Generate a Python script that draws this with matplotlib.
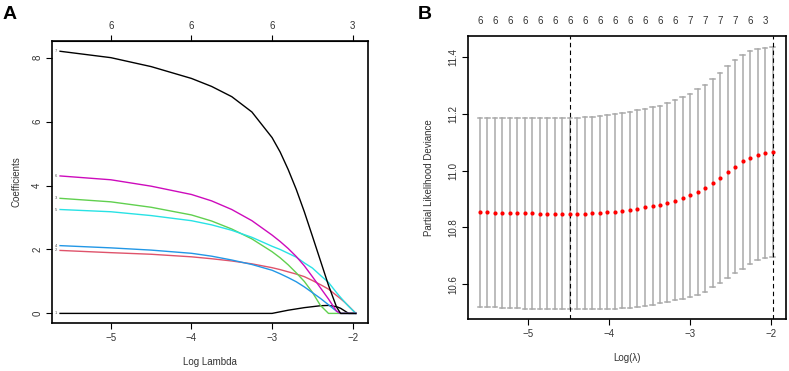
import matplotlib
matplotlib.use("Agg")
import matplotlib.pyplot as plt

plt.rcParams['font.family'] = ['Liberation Sans', 'DejaVu Sans']

# ---- panel A: coefficient paths ----
path_x = [-5.63, -5.0, -4.5, -4.0, -3.75, -3.5, -3.25, -3.0, -2.9, -2.8,
          -2.7, -2.6, -2.5, -2.4, -2.3, -2.2, -2.15, -2.1, -2.05, -1.96]
coef_v1 = [0, 0, 0, 0, 0, 0, 0, 0, 0.05, 0.10, 0.14, 0.18, 0.21, 0.24, 0.25, 0.21, 0.16, 0.08, 0, 0]
coef_v2 = [1.97, 1.90, 1.85, 1.77, 1.71, 1.64, 1.55, 1.43, 1.37, 1.30, 1.23, 1.15, 1.03, 0.90, 0.76, 0.56, 0.46, 0.35, 0.23, 0]
coef_v3 = [3.60, 3.49, 3.32, 3.08, 2.89, 2.64, 2.33, 1.93, 1.74, 1.52, 1.27, 1.00, 0.66, 0.25, 0, 0, 0, 0, 0, 0]
coef_v4 = [2.12, 2.05, 1.98, 1.88, 1.79, 1.67, 1.53, 1.35, 1.24, 1.12, 0.99, 0.83, 0.65, 0.47, 0.27, 0.07, 0, 0, 0, 0]
coef_v5 = [3.25, 3.18, 3.06, 2.90, 2.77, 2.60, 2.38, 2.10, 2.00, 1.88, 1.76, 1.58, 1.42, 1.19, 0.97, 0.65, 0.50, 0.36, 0.22, 0]
coef_v6 = [4.30, 4.18, 3.98, 3.72, 3.52, 3.25, 2.90, 2.45, 2.25, 2.03, 1.78, 1.49, 1.15, 0.80, 0.45, 0.07, 0, 0, 0, 0]
coef_v7 = [8.20, 8.00, 7.72, 7.35, 7.10, 6.78, 6.30, 5.50, 5.05, 4.50, 3.88, 3.18, 2.42, 1.65, 0.88, 0.20, 0, 0, 0, 0]
path_colors = ['black', '#DF536B', '#61D04F', '#2297E6', '#28E2E5', '#CD0BBC', 'black']
top_a_ticks = [-5, -4, -3, -2]
top_a_labels = ['6', '6', '6', '3']

# ---- panel B: cross-validation curve ----
log_lam = [-5.595, -5.502, -5.409, -5.317, -5.224, -5.131, -5.038, -4.945, -4.853, -4.760,
           -4.667, -4.574, -4.481, -4.388, -4.296, -4.203, -4.110, -4.017, -3.924, -3.832,
           -3.739, -3.646, -3.553, -3.460, -3.367, -3.275, -3.182, -3.089, -2.996, -2.903,
           -2.811, -2.718, -2.625, -2.532, -2.439, -2.346, -2.254, -2.161, -2.068, -1.975]
cvm = [10.853, 10.853, 10.851, 10.851, 10.851, 10.851, 10.849, 10.849, 10.848, 10.848,
       10.847, 10.847, 10.847, 10.847, 10.848, 10.849, 10.851, 10.853, 10.855, 10.858,
       10.861, 10.865, 10.870, 10.875, 10.880, 10.886, 10.894, 10.904, 10.913, 10.925,
       10.939, 10.957, 10.975, 10.994, 11.014, 11.032, 11.046, 11.056, 11.063, 11.067]
cvup = [11.184, 11.184, 11.184, 11.184, 11.184, 11.184, 11.184, 11.184, 11.184, 11.184,
        11.184, 11.184, 11.184, 11.186, 11.187, 11.189, 11.192, 11.195, 11.199, 11.202,
        11.207, 11.212, 11.218, 11.224, 11.229, 11.237, 11.247, 11.259, 11.271, 11.287,
        11.303, 11.323, 11.345, 11.367, 11.388, 11.408, 11.420, 11.429, 11.433, 11.435]
cvlo = [10.520, 10.520, 10.518, 10.517, 10.516, 10.515, 10.514, 10.514, 10.513, 10.513,
        10.512, 10.512, 10.512, 10.512, 10.512, 10.512, 10.512, 10.513, 10.513, 10.515,
        10.517, 10.519, 10.522, 10.527, 10.532, 10.538, 10.543, 10.549, 10.554, 10.563,
        10.574, 10.590, 10.605, 10.621, 10.638, 10.654, 10.670, 10.684, 10.692, 10.697]
nzero_labels = ['6', '6', '6', '6', '6', '6', '6', '6', '6', '6',
                '6', '6', '6', '6', '7', '7', '7', '7', '6', '3']
idx_min = 12
idx_1se = 39

fig = plt.figure(figsize=(7.89, 3.71), dpi=100)

def style(ax):
    for s in ax.spines.values():
        s.set_linewidth(1.2)
    ax.tick_params(axis='both', direction='out', length=4, width=0.8, labelsize=7,
                   colors='black', labelcolor='#333333', pad=3)
    for lab in ax.get_yticklabels():
        lab.set_rotation(90)
        lab.set_va('center')

# panel A
ax1 = fig.add_axes([0.0659, 0.1294, 0.4005, 0.760])
coefs = [coef_v1, coef_v2, coef_v3, coef_v4, coef_v5, coef_v6, coef_v7]
for i, c in enumerate(coefs):
    ax1.plot(path_x, c, color=path_colors[i], lw=1.0)
    ax1.text(path_x[0] - 0.04, c[0], str(i + 1), fontsize=3, ha='right', va='center', color='#555555')
ax1.set_xlim(-5.73, -1.81)
ax1.set_ylim(-0.3, 8.52)
ax1.set_xticks([-5, -4, -3, -2])
ax1.set_xticklabels(['\u22125', '\u22124', '\u22123', '\u22122'])
ax1.set_yticks([0, 2, 4, 6, 8])
ax1.set_xlabel('Log Lambda', fontsize=7, color='#333333', labelpad=10)
ax1.set_ylabel('Coefficients', fontsize=7, color='#333333', labelpad=8)
style(ax1)
top1 = ax1.secondary_xaxis('top')
top1.set_xticks(top_a_ticks)
top1.set_xticklabels(top_a_labels)
top1.tick_params(direction='out', length=4, width=0.8, labelsize=7, labelcolor='#333333', pad=3)
fig.text(0.003, 0.985, 'A', fontsize=14, fontweight='bold', va='top', ha='left')

# panel B
ax2 = fig.add_axes([0.5932, 0.140, 0.403, 0.763])
cap = 0.028
for x, lo, hi in zip(log_lam, cvlo, cvup):
    ax2.plot([x, x], [lo, hi], color='#A9A9A9', lw=1.1)
    ax2.plot([x - cap, x + cap], [hi, hi], color='#A9A9A9', lw=1.1)
    ax2.plot([x - cap, x + cap], [lo, lo], color='#A9A9A9', lw=1.1)
ax2.plot(log_lam, cvm, 'o', color='red', ms=3.0, mew=0, zorder=3)
ax2.axvline(log_lam[idx_min], color='black', ls=(0, (4, 3)), lw=0.8)
ax2.axvline(log_lam[idx_1se], color='black', ls=(0, (4, 3)), lw=0.8)
ax2.set_xlim(-5.74, -1.81)
ax2.set_ylim(10.477, 11.474)
ax2.set_xticks([-5, -4, -3, -2])
ax2.set_xticklabels(['\u22125', '\u22124', '\u22123', '\u22122'])
ax2.set_yticks([10.6, 10.8, 11.0, 11.2, 11.4])
ax2.set_yticklabels(['10.6', '10.8', '11.0', '11.2', '11.4'])
ax2.set_xlabel('Log(\u03bb)', fontsize=7, color='#333333', labelpad=10)
ax2.set_ylabel('Partial Likelihood Deviance', fontsize=7, color='#333333', labelpad=10)
style(ax2)
top2 = ax2.secondary_xaxis('top')
top2.set_xticks(log_lam[::2])
top2.set_xticklabels(nzero_labels)
top2.tick_params(length=0, labelsize=7, labelcolor='#333333', pad=7)
top2.spines['top'].set_visible(False)
fig.text(0.530, 0.985, 'B', fontsize=14, fontweight='bold', va='top', ha='left')

fig.savefig('out.png', dpi=100)
